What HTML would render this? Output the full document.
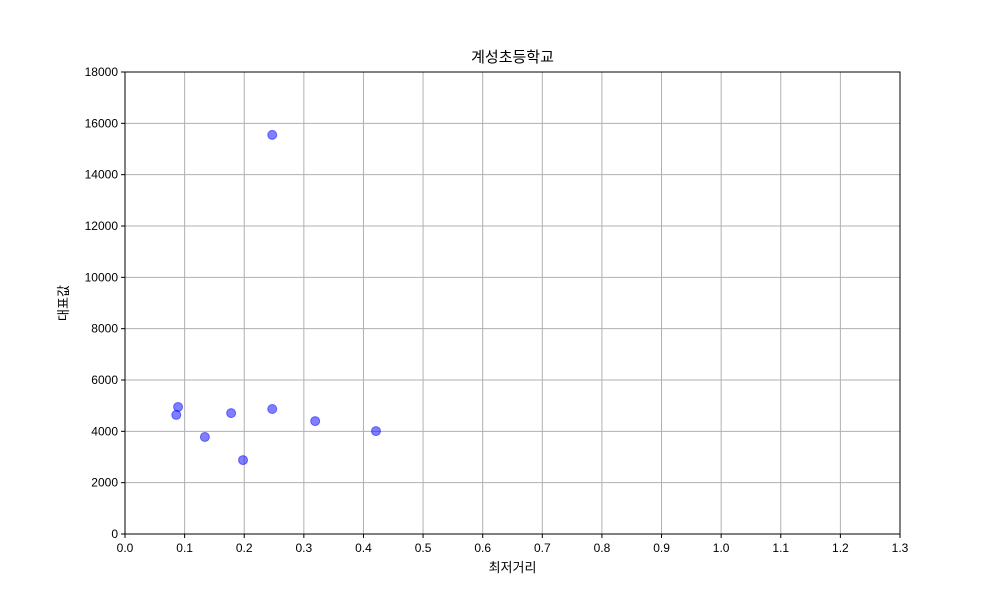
<!DOCTYPE html>
<html><head><meta charset="utf-8">
<style>
html,body{margin:0;padding:0;background:#fff;}
svg{display:block;font-family:"Liberation Sans","Noto Sans CJK KR","NanumGothic",sans-serif;}
</style></head>
<body>
<svg id="chart" width="1000" height="600"></svg>
<script>
const xValues=[0.086,0.089,0.134,0.178,0.198,0.247,0.247,0.319,0.421];
const yValues=[4640,4950,3780,4710,2880,15550,4870,4400,4010];
const xTicks=[0.0,0.1,0.2,0.3,0.4,0.5,0.6,0.7,0.8,0.9,1.0,1.1,1.2,1.3];
const yTicks=[0,2000,4000,6000,8000,10000,12000,14000,16000,18000];
const chartTitle="계성초등학교";
const xLabel="최저거리";
const yLabel="대표값";

const L=125,R=900,T=72,B=534,XMAX=1.3,YMAX=18000;
const sx=v=>L+v/XMAX*(R-L);
const sy=v=>B-v/YMAX*(B-T);
const svg=document.getElementById('chart');
const NS='http://www.w3.org/2000/svg';
function mk(tag,attrs,text){const e=document.createElementNS(NS,tag);for(const k in attrs)e.setAttribute(k,attrs[k]);if(text!==undefined)e.textContent=text;svg.appendChild(e);return e;}

xTicks.forEach(t=>{
  const x=sx(t);
  const g=mk('line',{x1:x,x2:x,y1:T,y2:B,stroke:'#b0b0b0','stroke-width':1});
  
  
  mk('line',{x1:x,x2:x,y1:B,y2:B+4,stroke:'#000'});
  const l=mk('text',{x:x,y:B+18,'text-anchor':'middle','font-size':12},t.toFixed(1));
  
  
});
yTicks.forEach(t=>{
  const y=sy(t);
  const g=mk('line',{x1:L,x2:R,y1:y,y2:y,stroke:'#b0b0b0','stroke-width':1});
  
  
  mk('line',{x1:L-4,x2:L,y1:y,y2:y,stroke:'#000'});
  const l=mk('text',{x:L-7,y:y+4,'text-anchor':'end','font-size':12},String(t));
  
  
});
const frame=mk('rect',{x:L,y:T,width:R-L,height:B-T,fill:'none',stroke:'#000','stroke-width':1});



xValues.forEach((xv,i)=>{
  const c=mk('circle',{cx:sx(xv),cy:sy(yValues[i]),r:4.5,fill:'rgba(0,0,255,0.5)',stroke:'rgba(0,0,255,0.5)','stroke-width':1});
  
  
});

const ti=mk('text',{x:(L+R)/2,y:62,'text-anchor':'middle','font-size':15},chartTitle);


const xl=mk('text',{x:(L+R)/2,y:572,'text-anchor':'middle','font-size':13},xLabel);


const yl=mk('text',{x:0,y:0,'text-anchor':'middle','font-size':13,transform:`translate(68,${(T+B)/2}) rotate(-90)`},yLabel);


</script>
</body></html>
